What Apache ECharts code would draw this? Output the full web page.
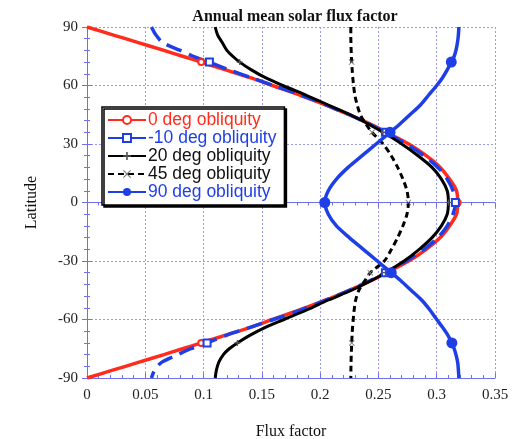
<!DOCTYPE html>
<html>
<head>
<meta charset="utf-8">
<script src="https://cdn.jsdelivr.net/npm/echarts@6/dist/echarts.min.js"></script>
<style>
  html, body { margin: 0; padding: 0; background: #fff; }
  #chart { width: 528px; height: 439px; }
</style>
</head>
<body>
<div id="chart"></div>
<script>
// latitudes, north to south
const lats = [90, 86, 82, 78, 75, 72, 68, 64, 60, 55, 50, 45, 40, 36, 30, 24, 18, 12, 6, 0,
  -6, -12, -18, -24, -30, -36, -40, -45, -50, -55, -60, -64, -68, -72, -75, -78, -82, -86, -90];

// flux factor per latitude, one list per obliquity
const obl0 = [0, 0.022, 0.044, 0.066, 0.082, 0.098, 0.119, 0.140, 0.159, 0.183, 0.205, 0.225, 0.244, 0.257, 0.276, 0.291, 0.303, 0.311, 0.317, 0.318,
  0.317, 0.311, 0.303, 0.291, 0.276, 0.257, 0.244, 0.225, 0.205, 0.183, 0.159, 0.140, 0.119, 0.098, 0.082, 0.066, 0.044, 0.022, 0];
const obl10 = [0.0553, 0.059, 0.065, 0.080, 0.091, 0.105, 0.122, 0.141, 0.160, 0.184, 0.205, 0.225, 0.243, 0.256, 0.274, 0.289, 0.301, 0.309, 0.314, 0.316,
  0.314, 0.309, 0.301, 0.289, 0.274, 0.256, 0.243, 0.225, 0.205, 0.184, 0.160, 0.140, 0.120, 0.103, 0.089, 0.078, 0.064, 0.058, 0.0553];
const obl20 = [0.110, 0.112, 0.116, 0.120, 0.125, 0.131, 0.141, 0.153, 0.168, 0.188, 0.207, 0.226, 0.242, 0.254, 0.270, 0.284, 0.296, 0.304, 0.309, 0.310,
  0.309, 0.304, 0.296, 0.285, 0.272, 0.256, 0.244, 0.227, 0.207, 0.189, 0.169, 0.153, 0.140, 0.129, 0.122, 0.117, 0.113, 0.111, 0.110];
const obl45 = [0.2263, 0.2263, 0.2264, 0.2266, 0.2268, 0.2270, 0.2275, 0.2280, 0.2287, 0.2298, 0.2318, 0.2345, 0.2395, 0.2445, 0.2540, 0.2610, 0.2665, 0.2710, 0.2745, 0.2757,
  0.2745, 0.2710, 0.2665, 0.2612, 0.2550, 0.2430, 0.2385, 0.2332, 0.2305, 0.2292, 0.2284, 0.2278, 0.2274, 0.2271, 0.2269, 0.2267, 0.2265, 0.2264, 0.2263];
const obl90 = [0.319, 0.3186, 0.3178, 0.3165, 0.315, 0.3125, 0.309, 0.305, 0.300, 0.293, 0.286, 0.277, 0.268, 0.260, 0.248, 0.236, 0.224, 0.214, 0.207, 0.204,
  0.207, 0.214, 0.225, 0.237, 0.249, 0.261, 0.269, 0.278, 0.287, 0.294, 0.300, 0.305, 0.3095, 0.313, 0.315, 0.3165, 0.318, 0.3186, 0.319];

const seriesNames = ['0 deg obliquity', '-10 deg obliquity', '20 deg obliquity', '45 deg obliquity', '90 deg obliquity'];
const markerLats = [72, 36, 0, -36, -72];

const RED = '#ff2b1c';
const BLUE = '#1f3fe6';
const BLACK = '#000';
const SERIF = '"Liberation Serif", "DejaVu Serif", serif';
const SANS = '"Liberation Sans", Arial, sans-serif';
const FRAME = '#6f6ff0';

// only a few points get a marker, the rest are plain line
function toData(xs) {
    return lats.map((lat, i) => {
        const item = { value: [xs[i], lat] };
        if (!markerLats.includes(lat)) item.symbol = 'none';
        return item;
    });
}

const plusPath = 'path://M4,0h2v10h-2zM0,4h10v2h-10z';
const crossPath = 'path://M0,1L1,0L5,4L9,0L10,1L6,5L10,9L9,10L5,6L1,10L0,9L4,5z';

const chart = echarts.init(document.getElementById('chart'));

// mirror axes on top / right, ticks only
const sideAxis = (pos) => ({
    type: 'value',
    position: pos,
    axisLine: { show: true, lineStyle: { color: FRAME, width: 1 } },
    axisTick: { show: true, inside: true, length: 5, lineStyle: { color: FRAME } },
    minorTick: { show: true, splitNumber: 5, length: 3, lineStyle: { color: FRAME } },
    axisLabel: { show: false },
    splitLine: { show: false }
});

const option = {
    animation: false,
    backgroundColor: '#fff',
    title: {
        text: 'Annual mean solar flux factor',
        left: 290,
        textAlign: 'center',
        top: 4,
        textStyle: { fontFamily: SERIF, fontWeight: 'bold', fontSize: 16, color: '#111' }
    },
    grid: { left: 87, right: 33, top: 27, bottom: 61, outerBoundsMode: 'none', containLabel: false },
    legend: {
        orient: 'vertical',
        left: 102,
        top: 107,
        padding: [4, 8, 4, 5],
        itemWidth: 38,
        itemHeight: 10,
        itemGap: 0,
        backgroundColor: '#fff',
        borderColor: '#000',
        borderWidth: 1.5,
        borderRadius: 0,
        shadowColor: '#000',
        shadowBlur: 0,
        shadowOffsetX: 2,
        shadowOffsetY: 2,
        textStyle: { fontFamily: SANS, fontSize: 17.5, lineHeight: 18, padding: [0, 0, 0, -3] },
        data: [
            { name: seriesNames[0], textStyle: { color: RED } },
            { name: seriesNames[1], textStyle: { color: BLUE } },
            { name: seriesNames[2], textStyle: { color: '#111' } },
            { name: seriesNames[3], textStyle: { color: '#111' } },
            { name: seriesNames[4], textStyle: { color: BLUE } }
        ]
    },
    xAxis: [{
        type: 'value',
        min: 0,
        max: 0.35,
        interval: 0.05,
        name: 'Flux factor',
        nameLocation: 'middle',
        nameGap: 46,
        nameTextStyle: { fontFamily: SERIF, fontSize: 16, color: '#111' },
        axisLine: { show: true, onZero: false, lineStyle: { color: FRAME, width: 1 } },
        axisTick: { show: true, inside: true, length: 5, lineStyle: { color: FRAME } },
        minorTick: { show: true, splitNumber: 5, length: 3, lineStyle: { color: FRAME } },
        axisLabel: { fontFamily: SERIF, fontSize: 15, color: '#222', margin: 10 },
        splitLine: { show: true, lineStyle: { color: '#9a9af2', type: [2, 2], width: 1 } }
    }, Object.assign(sideAxis('top'), { min: 0, max: 0.35, interval: 0.05 })],
    yAxis: [{
        type: 'value',
        min: -90,
        max: 90,
        interval: 30,
        name: 'Latitude',
        nameLocation: 'middle',
        nameGap: 47,
        nameRotate: 90,
        nameTextStyle: { fontFamily: SERIF, fontSize: 16, color: '#111' },
        axisLine: { show: true, onZero: false, lineStyle: { color: FRAME, width: 1 } },
        axisTick: { show: true, inside: true, length: 5, lineStyle: { color: FRAME } },
        minorTick: { show: true, splitNumber: 5, length: 3, lineStyle: { color: FRAME } },
        axisLabel: { fontFamily: SERIF, fontSize: 15, color: '#222', margin: 9 },
        splitLine: { show: true, lineStyle: { color: '#9a9af2', type: [2, 2], width: 1 } }
    }, Object.assign(sideAxis('right'), { min: -90, max: 90, interval: 30 })],
    series: [
        {
            name: seriesNames[0], type: 'line', smooth: 0.3,
            data: toData(obl0),
            symbol: 'emptyCircle', symbolSize: 6,
            lineStyle: { color: RED, width: 3.5 },
            itemStyle: { color: RED, borderColor: RED, borderWidth: 1 }
        },
        {
            name: seriesNames[1], type: 'line', smooth: 0.3,
            data: toData(obl10),
            symbol: 'emptyRect', symbolSize: 7,
            lineStyle: { color: BLUE, width: 3.5, type: [16, 8] },
            itemStyle: { color: BLUE, borderColor: BLUE, borderWidth: 1 }
        },
        {
            name: seriesNames[2], type: 'line', smooth: 0.3,
            data: toData(obl20),
            symbol: plusPath, symbolSize: 6,
            lineStyle: { color: BLACK, width: 3 },
            itemStyle: { color: '#555' }
        },
        {
            name: seriesNames[3], type: 'line', smooth: 0.3,
            data: toData(obl45),
            symbol: crossPath, symbolSize: 6,
            lineStyle: { color: BLACK, width: 3, type: [6, 4] },
            itemStyle: { color: '#777' }
        },
        {
            name: seriesNames[4], type: 'line', smooth: 0.3,
            data: toData(obl90),
            symbol: 'circle', symbolSize: 11,
            lineStyle: { color: BLUE, width: 3.5 },
            itemStyle: { color: BLUE }
        }
    ]
};

chart.setOption(option);
</script>
</body>
</html>
